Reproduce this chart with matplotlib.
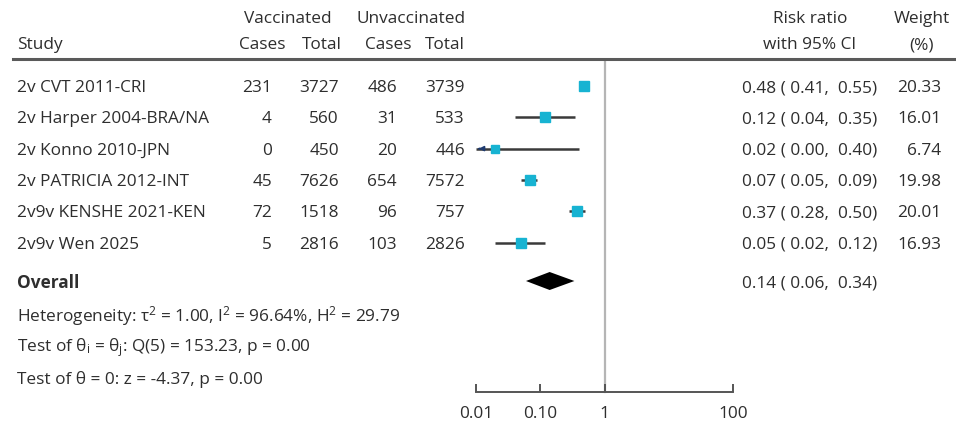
import matplotlib
matplotlib.use("Agg")
import matplotlib.pyplot as plt
import matplotlib.transforms as mtransforms
import numpy as np

plt.rcParams['font.family'] = ['Open Sans', 'DejaVu Sans']
plt.rcParams['mathtext.fontset'] = 'custom'
plt.rcParams['mathtext.rm'] = 'Open Sans'
plt.rcParams['mathtext.it'] = 'Open Sans:italic'

# ---------------- data ----------------
studies = ["2v CVT 2011-CRI", "2v Harper 2004-BRA/NA", "2v Konno 2010-JPN",
           "2v PATRICIA 2012-INT", "2v9v KENSHE 2021-KEN", "2v9v Wen 2025"]
vacc_cases = [231, 4, 0, 45, 72, 5]
vacc_total = [3727, 560, 450, 7626, 1518, 2816]
unvacc_cases = [486, 31, 20, 654, 96, 103]
unvacc_total = [3739, 533, 446, 7572, 757, 2826]
rr = [0.48, 0.12, 0.02, 0.07, 0.37, 0.05]
rr_lo = [0.41, 0.04, 0.00, 0.05, 0.28, 0.02]
rr_hi = [0.55, 0.35, 0.40, 0.09, 0.50, 0.12]
weights = [20.33, 16.01, 6.74, 19.98, 20.01, 16.93]
overall_rr, overall_lo, overall_hi = 0.14, 0.06, 0.34
het_text = r"Heterogeneity: τ$^{\mathregular{2}}$ = 1.00, I$^{\mathregular{2}}$ = 96.64%, H$^{\mathregular{2}}$ = 29.79"
test1_text = r"Test of θ$_{\mathregular{i}}$ = θ$_{\mathregular{j}}$: Q(5) = 153.23, p = 0.00"
test2_text = "Test of θ = 0: z = -4.37, p = 0.00"
xticks = [0.01, 0.1, 1, 100]
xticklabels = ["0.01", "0.10", "1", "100"]

# ---------------- layout ----------------
W, H = 956, 425
fig = plt.figure(figsize=(W / 100, H / 100), dpi=100)
ax = fig.add_axes([476 / W, 0, 257 / W, 1])
ax.set_xscale('log')
ax.set_xlim(0.01, 100)
ax.set_ylim(H, 0)  # y in pixels from top
ax.axis('off')

row_y = [86 + 31.3 * i for i in range(len(studies))]
y_overall = 281
y_het, y_t1, y_t2 = 313, 344, 377
y_head1, y_head2, y_line = 17, 43, 59
y_axis = 392

tr = mtransforms.blended_transform_factory(fig.transFigure, ax.transData)
tc = '#2e2e2e'
fs = 12.4

def txt(x, y, s, ha='left', **kw):
    fig.text(x / W, y, s, transform=tr, ha=ha, va='center_baseline', color=tc,
             fontsize=kw.pop('fontsize', fs), **kw)

# headers
txt(288, y_head1, "Vaccinated", ha='center')
txt(411, y_head1, "Unvaccinated", ha='center')
txt(17, y_head2, "Study")
txt(286, y_head2, "Cases", ha='right')
txt(342, y_head2, "Total", ha='right')
txt(411, y_head2, "Cases", ha='right')
txt(465, y_head2, "Total", ha='right')
txt(810, y_head1, "Risk ratio", ha='center')
txt(810, y_head2, "with 95% CI", ha='center')
txt(922, y_head1, "Weight", ha='center')
txt(922, y_head2, "(%)", ha='center')

# header rule
fig.add_artist(plt.Line2D([13 / W, 956 / W], [1 - y_line / H] * 2,
                          transform=fig.transFigure, color='#5a5a5a', lw=2.2))

# null line
ax.plot([1, 1], [y_line + 1, y_axis], color='#b5b5b5', lw=1.6, zorder=1)

# study rows
wmin, wmax = min(weights), max(weights)
for i, name in enumerate(studies):
    y = row_y[i]
    txt(17, y, name)
    txt(272, y, f"{vacc_cases[i]}", ha='right')
    txt(339, y, f"{vacc_total[i]}", ha='right')
    txt(397, y, f"{unvacc_cases[i]}", ha='right')
    txt(465, y, f"{unvacc_total[i]}", ha='right')
    txt(877, y, f"{rr[i]:.2f} ( {rr_lo[i]:.2f},  {rr_hi[i]:.2f})", ha='right')
    txt(941, y, f"{weights[i]:.2f}", ha='right')

    lo = max(rr_lo[i], 0.01)
    ax.plot([lo, rr_hi[i]], [y, y], color='#3a3a3a', lw=1.8, zorder=2,
            solid_capstyle='butt')
    if rr_lo[i] < 0.01:
        ax.annotate("", xy=(0.01, y), xytext=(0.0125, y),
                    arrowprops=dict(arrowstyle='-|>', color='#1f3b70',
                                    lw=1.2, mutation_scale=7), zorder=3)
    side_px = 7.5 + 2.8 * (weights[i] - wmin) / (wmax - wmin)
    ax.plot([rr[i]], [y], marker='s', linestyle='none',
            markersize=side_px * 0.72, color='#17b3d2', zorder=4)

# overall
txt(17, y_overall, "Overall", fontweight='bold')
txt(877, y_overall, f"{overall_rr:.2f} ( {overall_lo:.2f},  {overall_hi:.2f})", ha='right')
dh = 9
ax.fill([overall_lo, overall_rr, overall_hi, overall_rr],
        [y_overall, y_overall - dh, y_overall, y_overall + dh],
        color='black', lw=0, zorder=4)

txt(17, y_het, het_text)
txt(17, y_t1, test1_text)
txt(17, y_t2, test2_text)

# x axis
axx = fig.add_axes([476 / W, 1 - y_axis / H, 257 / W, 0.0001])
axx.set_xscale('log')
axx.set_xlim(0.01, 100)
axx.set_yticks([])
for s in ['top', 'left', 'right']:
    axx.spines[s].set_visible(False)
axx.spines['bottom'].set_color('#555555')
axx.spines['bottom'].set_linewidth(1.4)
axx.set_xticks(xticks)
axx.set_xticklabels(xticklabels)
axx.xaxis.set_minor_locator(matplotlib.ticker.NullLocator())
axx.tick_params(axis='x', direction='in', length=6, width=1.4, color='#555555',
                labelsize=fs, labelcolor=tc, pad=10)

fig.savefig("out.png", dpi=100)
